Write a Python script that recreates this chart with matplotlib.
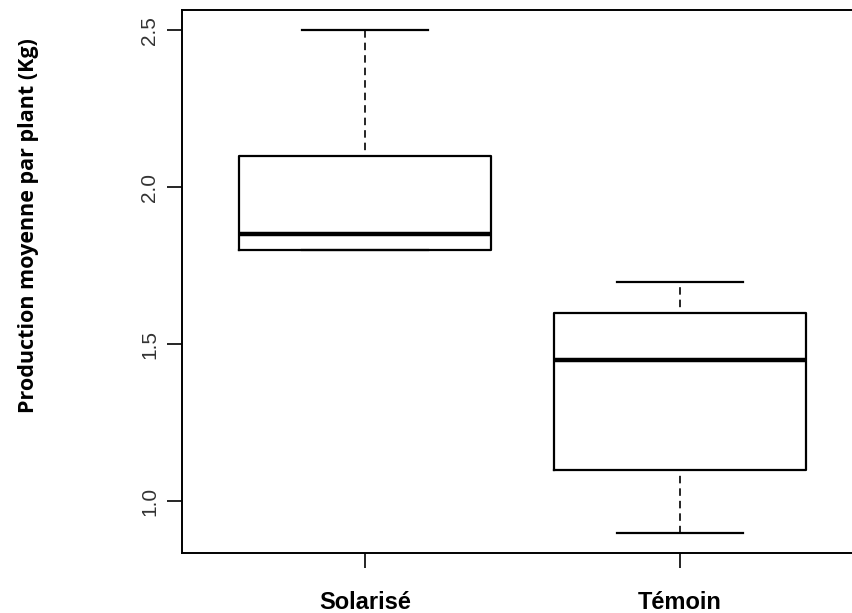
import matplotlib
matplotlib.use("Agg")
import matplotlib.pyplot as plt

# -------------------------
# DATA
# -------------------------
groups = ["Solarisé", "Témoin"]
whisker_low = [1.80, 0.90]
q1 = [1.80, 1.10]
median = [1.85, 1.45]
q3 = [2.10, 1.60]
whisker_high = [2.50, 1.70]
y_ticks = [1.0, 1.5, 2.0, 2.5]

# -------------------------
# PLOT
# -------------------------
fig = plt.figure(figsize=(8.53, 6.13), dpi=100)
ax = fig.add_axes([182 / 853, 60 / 613, 681 / 853, 543 / 613])

stats = [
    {"label": g, "whislo": lo, "q1": a, "med": m, "q3": b, "whishi": hi, "fliers": []}
    for g, lo, a, m, b, hi in zip(groups, whisker_low, q1, median, q3, whisker_high)
]
ax.bxp(
    stats,
    positions=[1, 2],
    widths=0.8,
    showfliers=False,
    boxprops=dict(color="black", linewidth=1.6),
    medianprops=dict(color="black", linewidth=3.2, solid_capstyle="butt"),
    whiskerprops=dict(color="black", linewidth=1.2, linestyle=(4, (4.5, 3))),
    capprops=dict(color="black", linewidth=1.6),
    capwidths=0.4,
)

ax.set_xlim(0.42, 2.58)
ax.set_ylim(0.836, 2.564)
ax.set_yticks(y_ticks)
ax.set_yticklabels([f"{v:.1f}" for v in y_ticks], rotation=90, va="center",
                   fontsize=15, family="Liberation Sans", color="#333333")
ax.set_xticks([1, 2])
ax.set_xticklabels(groups, fontsize=17, fontweight="bold", family="Liberation Sans")
ax.tick_params(axis="y", length=10.5, width=1.2, pad=6)
ax.tick_params(axis="x", length=10.5, width=1.2, pad=17)
for s in ax.spines.values():
    s.set_linewidth(1.4)

fig.text(29 / 853, 1 - 226 / 613, "Production moyenne par plant (Kg)",
         rotation=90, ha="center", va="center", fontsize=15.5,
         fontweight="bold", family="Open Sans")

fig.savefig("out.png", dpi=100)
